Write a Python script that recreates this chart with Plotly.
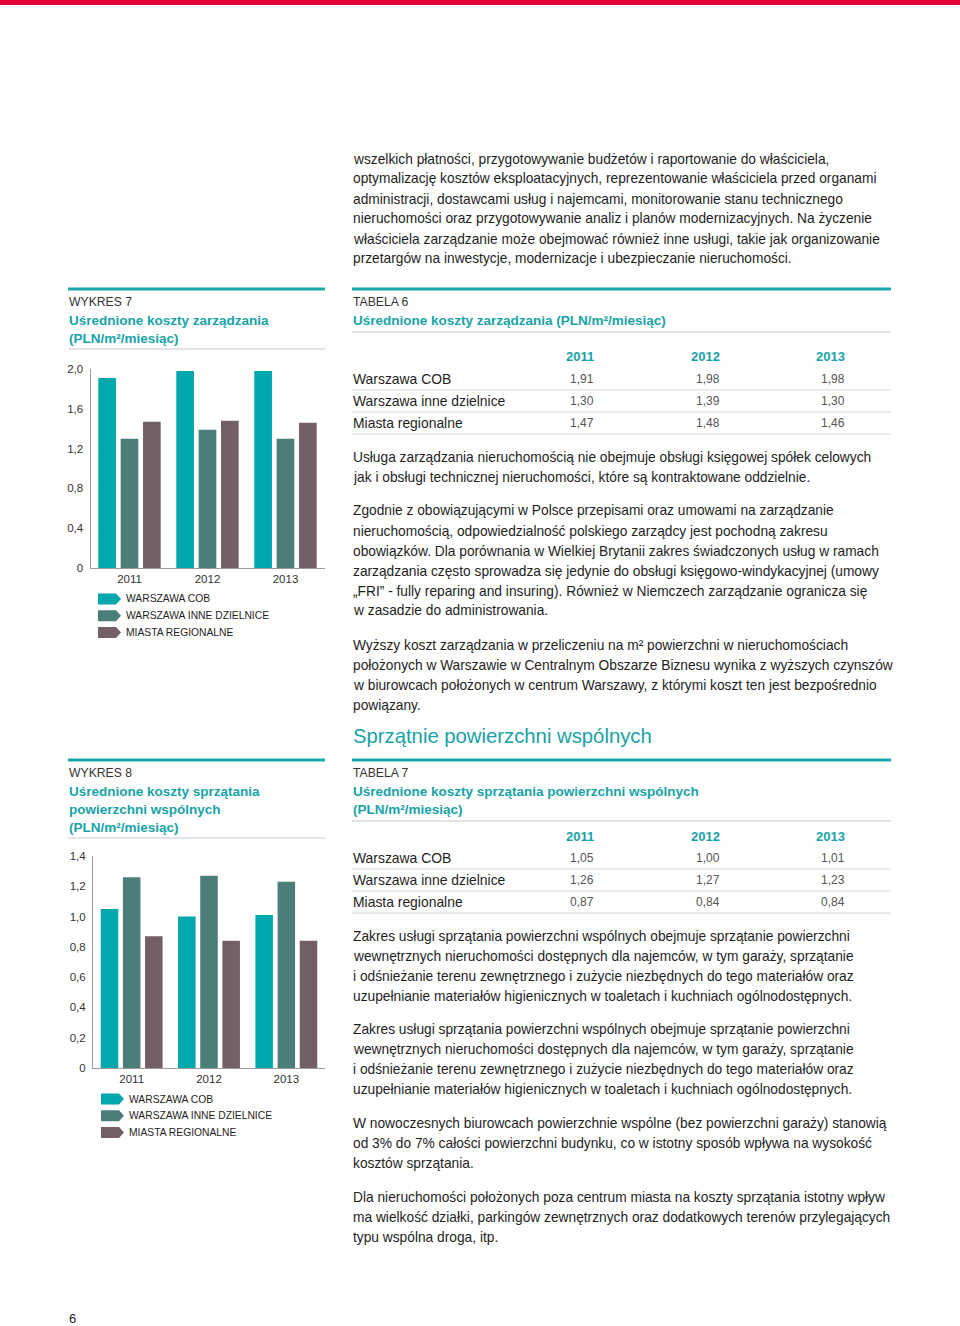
import plotly.graph_objects as go

W, H = 960, 1326


def px(x):
    return x / W


def py(y):
    return 1 - y / H


# ---------------- data ----------------
years = ["2011", "2012", "2013"]
series_names = ["Warszawa COB", "Warszawa inne dzielnice", "Miasta regionalne"]
legend_labels = ["WARSZAWA COB", "WARSZAWA INNE DZIELNICE", "MIASTA REGIONALNE"]

mgmt_cob = [1.91, 1.98, 1.98]
mgmt_inne = [1.30, 1.39, 1.30]
mgmt_miasta = [1.47, 1.48, 1.46]

clean_cob = [1.05, 1.00, 1.01]
clean_inne = [1.26, 1.27, 1.23]
clean_miasta = [0.87, 0.84, 0.84]

mgmt_tickvals = [0, 0.4, 0.8, 1.2, 1.6, 2.0]
mgmt_ticktext = ["0", "0,4", "0,8", "1,2", "1,6", "2,0"]
clean_tickvals = [0, 0.2, 0.4, 0.6, 0.8, 1.0, 1.2, 1.4]
clean_ticktext = ["0", "0,2", "0,4", "0,6", "0,8", "1,0", "1,2", "1,4"]

p0 = [
    "wszelkich płatności, przygotowywanie budżetów i raportowanie do właściciela,",
    "optymalizację kosztów eksploatacyjnych, reprezentowanie właściciela przed organami",
    "administracji, dostawcami usług i najemcami, monitorowanie stanu technicznego",
    "nieruchomości oraz przygotowywanie analiz i planów modernizacyjnych. Na życzenie",
    "właściciela zarządzanie może obejmować również inne usługi, takie jak organizowanie",
    "przetargów na inwestycje, modernizacje i ubezpieczanie nieruchomości.",
]
p1 = [
    "Usługa zarządzania nieruchomością nie obejmuje obsługi księgowej spółek celowych",
    "jak i obsługi technicznej nieruchomości, które są kontraktowane oddzielnie.",
]
p2 = [
    "Zgodnie z obowiązującymi w Polsce przepisami oraz umowami na zarządzanie",
    "nieruchomością, odpowiedzialność polskiego zarządcy jest pochodną zakresu",
    "obowiązków. Dla porównania w Wielkiej Brytanii zakres świadczonych usług w ramach",
    "zarządzania często sprowadza się jedynie do obsługi księgowo-windykacyjnej (umowy",
    "„FRI” - fully reparing and insuring). Również w Niemczech zarządzanie ogranicza się",
    "w zasadzie do administrowania.",
]
p3 = [
    "Wyższy koszt zarządzania w przeliczeniu na m² powierzchni w nieruchomościach",
    "położonych w Warszawie w Centralnym Obszarze Biznesu wynika z wyższych czynszów",
    "w biurowcach położonych w centrum Warszawy, z którymi koszt ten jest bezpośrednio",
    "powiązany.",
]
heading = "Sprzątnie powierzchni wspólnych"
p4 = [
    "Zakres usługi sprzątania powierzchni wspólnych obejmuje sprzątanie powierzchni",
    "wewnętrznych nieruchomości dostępnych dla najemców, w tym garaży, sprzątanie",
    "i odśnieżanie terenu zewnętrznego i zużycie niezbędnych do tego materiałów oraz",
    "uzupełnianie materiałów higienicznych w toaletach i kuchniach ogólnodostępnych.",
]
p5 = list(p4)
p6 = [
    "W nowoczesnych biurowcach powierzchnie wspólne (bez powierzchni garaży) stanowią",
    "od 3% do 7% całości powierzchni budynku, co w istotny sposób wpływa na wysokość",
    "kosztów sprzątania.",
]
p7 = [
    "Dla nieruchomości położonych poza centrum miasta na koszty sprzątania istotny wpływ",
    "ma wielkość działki, parkingów zewnętrznych oraz dodatkowych terenów przylegających",
    "typu wspólna droga, itp.",
]

chart1_label = "WYKRES 7"
chart1_title = ["Uśrednione koszty zarządzania", "(PLN/m²/miesiąc)"]
chart2_label = "WYKRES 8"
chart2_title = ["Uśrednione koszty sprzątania", "powierzchni wspólnych", "(PLN/m²/miesiąc)"]
table1_label = "TABELA 6"
table1_title = ["Uśrednione koszty zarządzania (PLN/m²/miesiąc)"]
table2_label = "TABELA 7"
table2_title = ["Uśrednione koszty sprzątania powierzchni wspólnych", "(PLN/m²/miesiąc)"]
page_number = "6"

# ---------------- style ----------------
FONT = "Liberation Sans, Arial, Helvetica, sans-serif"
TEAL_BAR = "#00a7ad"
INNE_BAR = "#4b7e78"
MIASTA_BAR = "#735f67"
TEAL_TXT = "#17a3a7"
TEAL_LINE = "#1aa7a8"
GRAY_LINE = "#c9c9c9"
TXT = "#1e1e1e"
RED = "#e2003a"
BODY_SIZE = 13.75
colors = [TEAL_BAR, INNE_BAR, MIASTA_BAR]

fig = go.Figure()

for vals, name, col in zip([mgmt_cob, mgmt_inne, mgmt_miasta], series_names, colors):
    fig.add_trace(go.Bar(x=years, y=vals, name=name, marker=dict(color=col, line=dict(width=0)),
                         xaxis="x", yaxis="y", showlegend=False))
for vals, name, col in zip([clean_cob, clean_inne, clean_miasta], series_names, colors):
    fig.add_trace(go.Bar(x=years, y=vals, name=name, marker=dict(color=col, line=dict(width=0)),
                         xaxis="x2", yaxis="y2", showlegend=False))

annotations = []
shapes = []


def text(x, y, s, size=BODY_SIZE, color=TXT, bold=False, anchor="left"):
    annotations.append(dict(
        x=px(x), y=py(y), xref="paper", yref="paper", text=(f"<b>{s}</b>" if bold else s),
        showarrow=False, xanchor=anchor, yanchor="middle", borderpad=0,
        font=dict(family=FONT, size=size, color=color)))


def hline(x0, x1, y, color, width):
    shapes.append(dict(type="line", xref="paper", yref="paper", x0=px(x0), x1=px(x1),
                       y0=py(y), y1=py(y), line=dict(color=color, width=width)))


def arrow(x0, yc, color, w=23, h=11, tip=5):
    pts = [(x0, yc - h / 2), (x0 + w - tip, yc - h / 2), (x0 + w, yc),
           (x0 + w - tip, yc + h / 2), (x0, yc + h / 2)]
    path = "M " + " L ".join(f"{px(a):.5f},{py(b):.5f}" for a, b in pts) + " Z"
    shapes.append(dict(type="path", xref="paper", yref="paper", path=path,
                       fillcolor=color, line=dict(width=0)))


# red top bar
shapes.append(dict(type="rect", xref="paper", yref="paper", x0=0, x1=1, y0=py(5), y1=1,
                   fillcolor=RED, line=dict(width=0)))


def para(lines, y0, step=20):
    for i, s in enumerate(lines):
        text(352, y0 + i * step, s)


para(p0, 159)
para(p1, 457)
para(p2, 511)
para(p3, 645)
text(352, 736, heading, size=20.3, color=TEAL_TXT)
para(p4, 936)
para(p5, 1029)
para(p6, 1123)
para(p7, 1197)


def header(x0, x1, ytop, label, title_lines, gap_after):
    hline(x0, x1, ytop, TEAL_LINE, 3)
    text(x0, ytop + 13, label, size=12.2, color="#333333")
    y = ytop + 31
    for s in title_lines:
        text(x0, y, s, size=13.5, color=TEAL_TXT, bold=True)
        y += 18
    hline(x0, x1, y - 18 + gap_after, GRAY_LINE, 1)


header(68, 325, 289, chart1_label, chart1_title, 11)
header(68, 325, 760, chart2_label, chart2_title, 11)
header(352, 891, 289, table1_label, table1_title, 12)
header(352, 891, 760, table2_label, table2_title, 12)

for i, (lab, col) in enumerate(zip(legend_labels, colors)):
    arrow(98, 599 + i * 16.8, col)
    text(125, 599 + i * 16.8, lab, size=10.3, color=TXT)
    arrow(101, 1099 + i * 16.8, col)
    text(128, 1099 + i * 16.8, lab, size=10.3, color=TXT)

col_right = [595, 721, 846]


def fmt(v):
    return f"{v:.2f}".replace(".", ",")


def table(y_head, rows):
    for yr, xr in zip(years, col_right):
        text(xr, y_head, yr, size=13, color=TEAL_TXT, bold=True, anchor="right")
    for r, (name, vals) in enumerate(zip(series_names, rows)):
        yy = y_head + 22 * (r + 1)
        text(352, yy, name, size=13.9, color=TXT)
        for v, xr in zip(vals, col_right):
            text(xr, yy, fmt(v), size=12, color="#555555", anchor="right")
        hline(352, 891, yy + 11, "#d6d6d6", 1)


table(357, [mgmt_cob, mgmt_inne, mgmt_miasta])
table(836, [clean_cob, clean_inne, clean_miasta])

text(72, 1318, page_number, size=13, color=TXT, anchor="center")

axis_common = dict(showgrid=False, zeroline=False, showline=True, linecolor="#9a9a9a",
                   linewidth=1, tickfont=dict(family=FONT, size=11.5, color="#333333"),
                   fixedrange=True)

fig.update_layout(
    width=W, height=H, autosize=False,
    margin=dict(l=0, r=0, t=0, b=0, pad=0, autoexpand=False),
    paper_bgcolor="white", plot_bgcolor="white",
    barmode="group", bargap=0.14, bargroupgap=0.21,
    font=dict(family=FONT),
    xaxis=dict(domain=[px(90.5), px(324.5)], anchor="y", type="category", range=[-0.5, 2.5],
               ticks="", **axis_common),
    yaxis=dict(domain=[py(568), py(369)], anchor="x", range=[0, 2.0], tickvals=mgmt_tickvals,
               ticktext=mgmt_ticktext, ticks="", ticklabelstandoff=4, **axis_common),
    xaxis2=dict(domain=[px(93), px(325)], anchor="y2", type="category", range=[-0.5, 2.5],
                ticks="", **axis_common),
    yaxis2=dict(domain=[py(1068), py(856)], anchor="x2", range=[0, 1.4], tickvals=clean_tickvals,
                ticktext=clean_ticktext, ticks="", ticklabelstandoff=4, **axis_common),
    annotations=annotations, shapes=shapes,
)

post = ("document.body.style.margin='0';document.body.style.padding='0';"
        "document.body.style.overflow='hidden';"
        "var gd=document.getElementById('{plot_id}');"
        "Plotly.relayout(gd,{width:960,height:1326});")

fig.write_html("out.html", config={"responsive": False, "displayModeBar": False},
               post_script=post)
